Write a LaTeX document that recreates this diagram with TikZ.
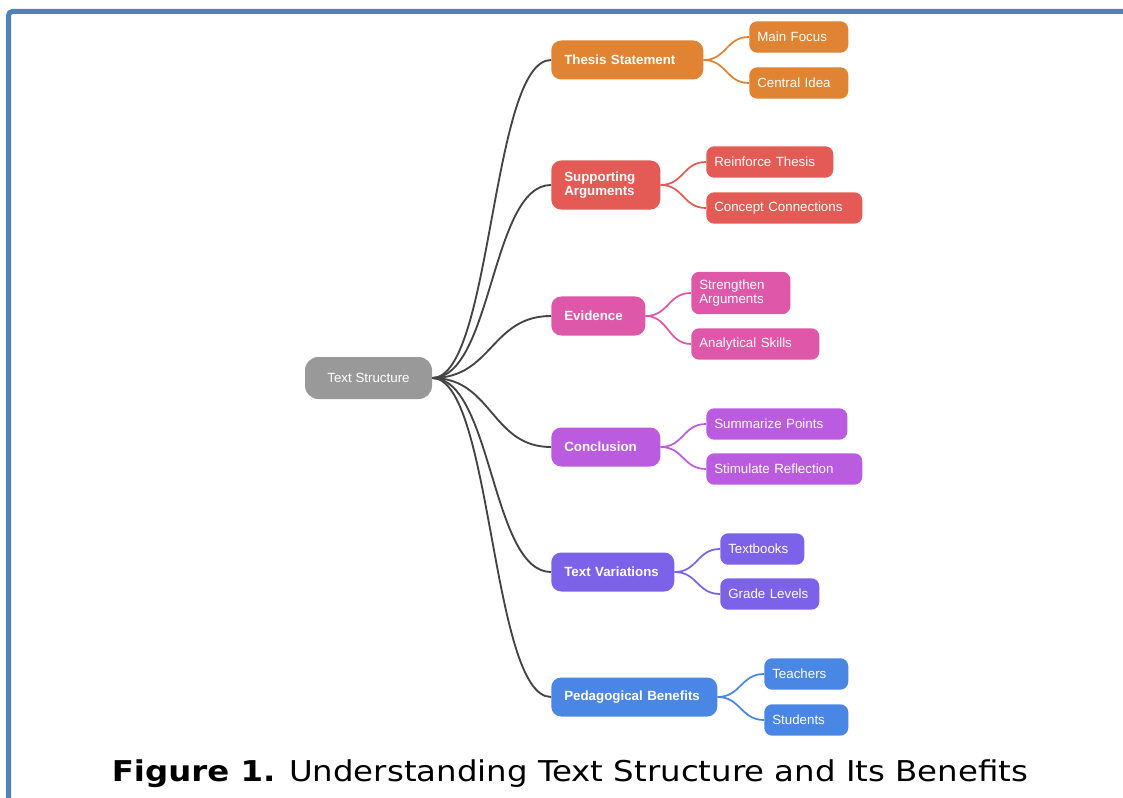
\documentclass[tikz,border=0pt]{standalone}
\usepackage{fontspec}
\setmainfont{Liberation Sans}
\newfontfamily\capfont[FakeStretch=1.13]{DejaVu Sans}
\definecolor{frameblue}{RGB}{79,129,189}
\definecolor{rootgray}{RGB}{153,153,153}
\definecolor{trunkgray}{RGB}{68,68,68}
\definecolor{cthesis}{RGB}{224,131,50}
\definecolor{csupport}{RGB}{228,90,85}
\definecolor{cevid}{RGB}{222,87,168}
\definecolor{cconcl}{RGB}{187,91,224}
\definecolor{cvari}{RGB}{123,98,232}
\definecolor{cpeda}{RGB}{74,135,228}
\tikzset{
  root/.style={fill=rootgray,rounded corners=10pt,minimum width=95.25pt,minimum height=31.5pt,inner sep=0pt},
  topic/.style={fill=#1,rounded corners=7.5pt,anchor=west,align=left,inner xsep=9.75pt,inner ysep=8.5pt,minimum height=29.25pt,font=\fontsize{10}{10.5}\selectfont\bfseries},
  leaf/.style={fill=#1,rounded corners=6pt,anchor=west,align=left,inner xsep=6pt,inner ysep=6pt,minimum height=23.6pt},
  trunk/.style={draw=trunkgray,line width=1.4pt},
  twig/.style={draw=#1,line width=1.3pt}
}
\begin{document}
\begin{tikzpicture}[x=0.75pt,y=-0.75pt,every node/.style={font=\fontsize{10}{10.5}\selectfont,text=white}]
\useasboundingbox (0,0) rectangle (1123,798);
% frame, open to the right and below
\draw[frameblue,line width=3.75pt,rounded corners=3pt] (8.5,830) -- (8.5,11.5) -- (1160,11.5);

\node[root] (ts) at (368.5,378) {Text Structure};

% main branches
\node[topic=cthesis,text width=94.5pt] (thesis) at (551,60) {Thesis Statement};
\node[topic=csupport,text width=62.25pt] (support) at (551,185) {Supporting\\Arguments};
\node[topic=cevid,text width=51pt] (evid) at (551,316) {Evidence};
\node[topic=cconcl,text width=62.25pt] (concl) at (551,447) {Conclusion};
\node[topic=cvari,text width=72.75pt] (vari) at (551,572) {Text Variations};
\node[topic=cpeda,text width=105pt] (peda) at (551,697) {Pedagogical Benefits};

% leaves
\node[leaf=cthesis,text width=62.25pt] (focus) at (749,37) {Main Focus};
\node[leaf=cthesis,text width=62.25pt] (idea) at (749,83) {Central Idea};
\node[leaf=csupport,text width=83.25pt] (reinf) at (706,162) {Reinforce Thesis};
\node[leaf=csupport,text width=105pt] (conn) at (706,208) {Concept Connections};
\node[leaf=cevid,text width=62.25pt] (stren) at (691,293) {Strengthen\\Arguments};
\node[leaf=cevid,text width=84pt] (anal) at (691,344) {Analytical Skills};
\node[leaf=cconcl,text width=93.75pt] (summ) at (706,424) {Summarize Points};
\node[leaf=cconcl,text width=105pt] (stim) at (706,469) {Stimulate Reflection};
\node[leaf=cvari,text width=51pt] (books) at (720,549) {Textbooks};
\node[leaf=cvari,text width=62.25pt] (grade) at (720,594) {Grade Levels};
\node[leaf=cpeda,text width=51pt] (teach) at (764,674) {Teachers};
\node[leaf=cpeda,text width=51pt] (stud) at (764,720) {Students};

\foreach \t in {thesis,support,evid,concl,vari,peda}
  \draw[trunk] (ts.east) .. controls +(60,0) and +(-60,0) .. (\t.west);
\foreach \t/\a/\b in {thesis/focus/idea,support/reinf/conn,evid/stren/anal,concl/summ/stim,vari/books/grade,peda/teach/stud}{
  \draw[twig=c\t] (\t.east) .. controls +(23,0) and +(-23,0) .. (\a.west);
  \draw[twig=c\t] (\t.east) .. controls +(23,0) and +(-23,0) .. (\b.west);
}

\node[font=\capfont\fontsize{21.5}{24}\selectfont,text=black,anchor=base] (cap) at (570,781) {\textbf{Figure 1.} Understanding Text Structure and Its Benefits};
\end{tikzpicture}
\end{document}
